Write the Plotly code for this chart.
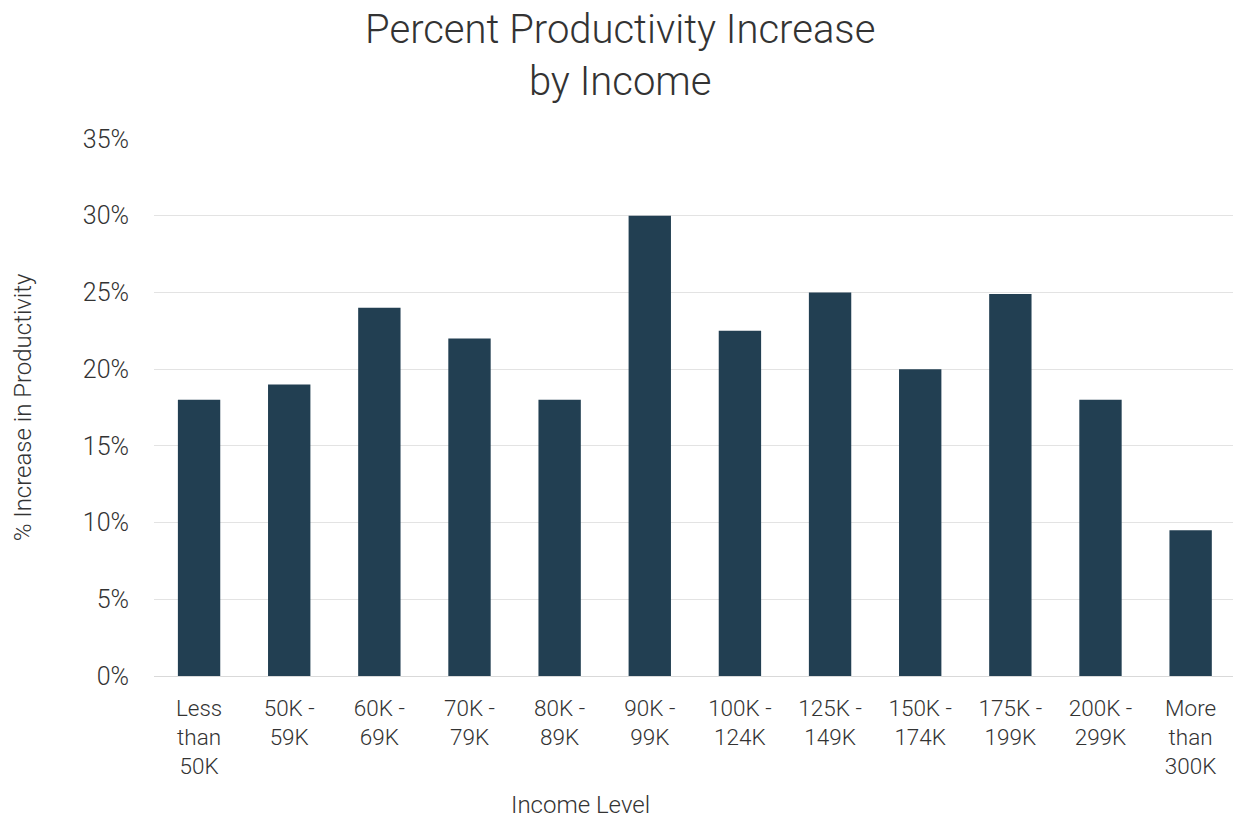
import plotly.graph_objects as go

categories = ["Less<br>than<br>50K", "50K -<br>59K", "60K -<br>69K", "70K -<br>79K", "80K -<br>89K",
              "90K -<br>99K", "100K -<br>124K", "125K -<br>149K", "150K -<br>174K", "175K -<br>199K",
              "200K -<br>299K", "More<br>than<br>300K"]
values = [18, 19, 24, 22, 18, 30, 22.5, 25, 20, 24.9, 18, 9.5]
y_ticks = [0, 5, 10, 15, 20, 25, 30, 35]
y_tick_labels = [f"{v}%" for v in y_ticks]

FONT = "Roboto"
TXT = "#333333"

fig = go.Figure(go.Bar(x=categories, y=values, marker=dict(color="#223F52", line=dict(width=0))))

fig.update_layout(
    width=1233, height=820,
    margin=dict(l=154, r=0, t=139, b=144),
    paper_bgcolor="white", plot_bgcolor="white",
    bargap=0.53,
    showlegend=False,
    title=dict(text="Percent Productivity Increase<br>by Income", x=0.503, xanchor="center",
               yref="container", y=0.947, yanchor="top",
               font=dict(family=FONT, size=40, color=TXT, weight=300)),
    font=dict(family=FONT, color=TXT),
    annotations=[dict(text="Income Level", xref="paper", yref="paper",
                      x=(580 - 154) / 1079, y=-(805 - 676) / 537,
                      xanchor="center", yanchor="middle", showarrow=False,
                      font=dict(family=FONT, size=24, color=TXT, weight=300))],
)
fig.update_xaxes(
    range=[-0.5, 11.47],
    tickfont=dict(family=FONT, size=22.5, color=TXT, weight=300),
    ticklabelstandoff=16,
    showgrid=False, showline=False, zeroline=False,
)
fig.update_yaxes(
    range=[0, 35], tickvals=y_ticks, ticktext=y_tick_labels,
    tickfont=dict(family=FONT, size=25, color=TXT, weight=300),
    ticklabelstandoff=24,
    showgrid=True, gridcolor="#E3E3E3", gridwidth=1,
    zeroline=True, zerolinecolor="#D9D9D9", zerolinewidth=1,
    title=dict(text="% Increase in Productivity", font=dict(family=FONT, size=24, color=TXT, weight=300), standoff=44),
)
fig.write_html("out.html")
